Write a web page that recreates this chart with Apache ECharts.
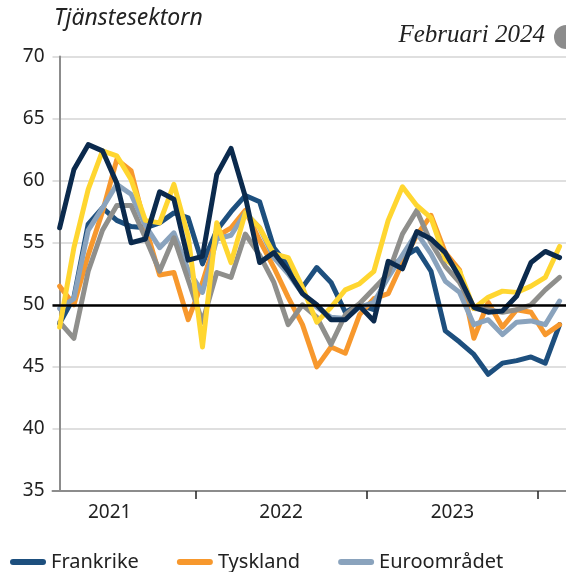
<!DOCTYPE html>
<html>
<head>
<meta charset="utf-8">
<script src="https://cdn.jsdelivr.net/npm/echarts@6/dist/echarts.min.js"></script>
<style>
  html, body { margin: 0; padding: 0; background: #fff; }
  #chart { width: 566px; height: 572px; }
</style>
</head>
<body>
<div id="chart"></div>
<script>
// månader, mars 2021 - februari 2024
var months = ['2021-03','2021-04','2021-05','2021-06','2021-07','2021-08','2021-09','2021-10','2021-11','2021-12',
  '2022-01','2022-02','2022-03','2022-04','2022-05','2022-06','2022-07','2022-08','2022-09','2022-10','2022-11','2022-12',
  '2023-01','2023-02','2023-03','2023-04','2023-05','2023-06','2023-07','2023-08','2023-09','2023-10','2023-11','2023-12',
  '2024-01','2024-02'];
var years = ['2021', '2022', '2023'];

var frankrike = [48.5, 50.6, 56.5, 57.8, 56.8, 56.3, 56.2, 56.6, 57.4, 57.0, 53.3, 56.0, 57.5, 58.8, 58.3, 54.6, 53.1, 51.4,
  53.0, 51.8, 49.4, 50.0, 49.6, 52.8, 53.8, 54.5, 52.7, 47.9, 47.0, 46.0, 44.4, 45.3, 45.5, 45.8, 45.3, 48.4];
var tyskland = [51.5, 50.0, 54.0, 57.5, 61.7, 60.8, 56.3, 52.4, 52.6, 48.8, 51.8, 55.5, 56.2, 57.6, 55.2, 53.0, 50.6, 48.4,
  45.0, 46.6, 46.1, 49.2, 50.5, 50.9, 53.4, 55.6, 57.2, 54.2, 52.8, 47.3, 50.2, 48.2, 49.6, 49.4, 47.6, 48.4];
var euroomradet = [49.7, 50.5, 56.0, 57.8, 59.7, 58.9, 56.4, 54.6, 55.8, 52.8, 51.0, 55.3, 55.6, 57.4, 56.2, 53.8, 52.5, 50.9,
  49.8, 49.0, 48.9, 49.8, 50.2, 52.2, 54.0, 55.8, 54.1, 51.9, 51.0, 48.4, 48.8, 47.6, 48.6, 48.7, 48.4, 50.3];
var italien = [48.6, 47.3, 52.7, 56.0, 58.0, 58.0, 55.4, 52.7, 55.4, 52.0, 48.6, 52.6, 52.2, 55.7, 54.0, 51.8, 48.4, 50.0,
  49.0, 46.8, 49.2, 50.1, 51.3, 52.5, 55.7, 57.6, 55.0, 53.1, 51.8, 49.7, 49.6, 49.4, 49.6, 50.0, 51.2, 52.2];
var spanien = [48.2, 54.6, 59.3, 62.4, 62.0, 60.1, 56.8, 56.6, 59.7, 55.5, 46.6, 56.6, 53.4, 57.4, 56.2, 54.1, 53.8, 51.4,
  48.6, 49.8, 51.2, 51.7, 52.7, 56.8, 59.5, 58.0, 57.0, 53.7, 52.7, 49.7, 50.6, 51.1, 51.0, 51.5, 52.2, 54.7];
var storbritannien = [56.2, 60.9, 62.9, 62.4, 59.8, 55.0, 55.3, 59.1, 58.5, 53.6, 53.9, 60.5, 62.6, 58.7, 53.4, 54.2, 52.7, 50.9,
  50.0, 48.8, 48.8, 49.9, 48.7, 53.5, 52.9, 55.9, 55.3, 54.2, 52.2, 49.8, 49.4, 49.5, 50.7, 53.4, 54.3, 53.8];

var font = 'Noto Sans';

function pts(arr) {
  return arr.map(function (v, i) { return [i, v]; });
}

// årsgränser (mellan dec och jan) och årsmitt för etiketterna
var yearTicks = [];
var yearLabelPos = {};
years.forEach(function (y) {
  var jan = months.indexOf((+y + 1) + '-01') - 12;
  yearTicks.push(jan + 12 - 0.5);
  yearLabelPos[jan + 5.5] = y;
});

function line(name, data, color) {
  return {
    name: name,
    type: 'line',
    data: pts(data),
    showSymbol: false,
    symbol: 'none',
    lineStyle: { color: color, width: 5, join: 'round', cap: 'round' },
    itemStyle: { color: color },
    z: 3
  };
}

var chart = echarts.init(document.getElementById('chart'));
chart.setOption({
  animation: false,
  title: {
    text: 'Tjänstesektorn',
    left: 54,
    top: 7,
    padding: 0,
    textStyle: { fontFamily: font, fontStyle: 'italic', fontWeight: 'normal', fontSize: 23, color: '#222' }
  },
  graphic: [
    {
      type: 'text',
      right: 21,
      top: 23,
      style: { text: 'Februari 2024', font: 'italic 25px "Liberation Serif"', fill: '#222' }
    },
    {
      type: 'circle',
      shape: { cx: 566, cy: 37, r: 12 },
      style: { fill: '#8c8c8c' }
    }
  ],
  legend: {
    data: ['Frankrike', 'Tyskland', 'Euroområdet'],
    left: 10,
    top: 552,
    padding: 0,
    itemWidth: 36,
    itemHeight: 6,
    itemGap: 38,
    icon: 'path://M3,0 L33,0 A3,3 0 0 1 33,6 L3,6 A3,3 0 0 1 3,0 Z',
    textStyle: { fontFamily: font, fontSize: 20, color: '#222' }
  },
  grid: { left: 52.5, right: 0, top: 56.5, bottom: 81, outerBoundsMode: 'none' },
  xAxis: {
    type: 'value',
    min: -0.5,
    max: 35.45,
    splitLine: { show: false },
    axisLine: { lineStyle: { color: '#8c8c8c', width: 2 } },
    axisTick: { customValues: yearTicks, length: 8, lineStyle: { color: '#222', width: 1.5 } },
    axisLabel: {
      customValues: Object.keys(yearLabelPos).map(Number),
      formatter: function (v) { return yearLabelPos[v] || ''; },
      fontFamily: font, fontSize: 19, color: '#222', margin: 12
    }
  },
  yAxis: {
    type: 'value',
    min: 35,
    max: 70,
    interval: 5,
    axisLine: { show: true, lineStyle: { color: '#8c8c8c', width: 2 } },
    axisTick: { show: false },
    splitLine: { lineStyle: { color: '#d4d4d4', width: 1.5 } },
    axisLabel: { fontFamily: font, fontSize: 19, color: '#222', margin: 8 }
  },
  series: [
    {
      name: '50-linje',
      type: 'line',
      data: [],
      z: 1,
      markLine: {
        silent: true,
        symbol: ['none', 'none'],
        label: { show: false },
        lineStyle: { color: '#000', width: 2.5, type: 'solid' },
        data: [{ yAxis: 50 }]
      }
    },
    line('Frankrike', frankrike, '#1d4f7e'),
    line('Tyskland', tyskland, '#f7982d'),
    line('Euroområdet', euroomradet, '#8aa3bd'),
    line('Italien', italien, '#8f8f8c'),
    line('Spanien', spanien, '#ffd630'),
    line('Storbritannien', storbritannien, '#0b2a4d')
  ]
});
</script>
</body>
</html>
